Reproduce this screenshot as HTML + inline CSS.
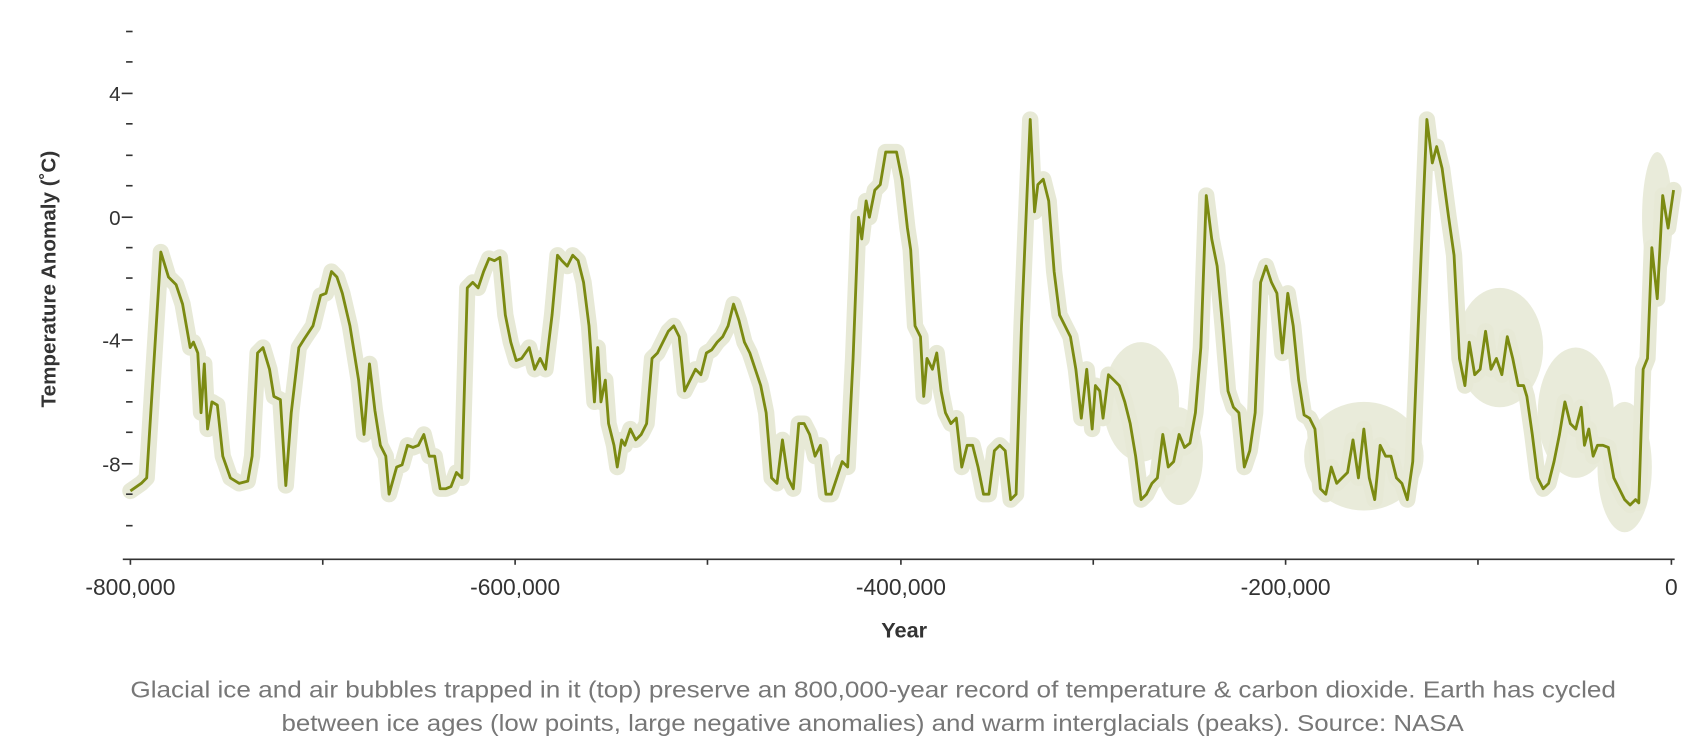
<!DOCTYPE html>
<html><head><meta charset="utf-8"><style>
html,body{margin:0;padding:0;background:#fff;width:1704px;height:744px;overflow:hidden}
svg{display:block}
</style></head><body>
<svg width="1704" height="744" viewBox="0 0 1568 685" preserveAspectRatio="none" xmlns="http://www.w3.org/2000/svg">
<defs>
<path id="d" d="M120,452 L130,445 L135,440 L148,232 L155,255 L162,262 L168,280 L175,320 L178,315 L182,325 L185,380 L188,335 L191,395 L195,370 L200,373 L205,420 L212,440 L220,445 L228,443 L232,420 L237,325 L242,320 L248,340 L252,365 L258,368 L263,447 L268,380 L275,320 L280,312 L288,300 L295,272 L300,270 L305,250 L310,255 L315,270 L322,300 L330,350 L335,400 L340,335 L345,378 L350,410 L355,420 L358,455 L365,430 L370,428 L375,410 L380,412 L385,410 L390,400 L395,420 L400,420 L405,450 L410,450 L415,448 L420,435 L425,440 L430,265 L435,260 L440,265 L445,250 L450,238 L455,240 L460,237 L465,290 L470,315 L475,332 L480,330 L487,320 L492,340 L497,330 L502,340 L508,290 L513,235 L517,240 L522,245 L527,235 L532,240 L537,260 L542,300 L547,370 L550,320 L553,370 L557,350 L560,390 L565,410 L568,430 L572,405 L575,410 L580,395 L585,405 L590,400 L595,390 L600,330 L605,325 L610,315 L615,305 L620,300 L625,310 L630,360 L635,350 L640,340 L645,345 L650,325 L655,322 L660,315 L665,310 L670,300 L675,280 L680,295 L685,315 L690,325 L695,340 L700,355 L705,380 L710,440 L715,445 L720,405 L725,440 L730,450 L735,390 L740,390 L745,400 L750,420 L755,410 L760,455 L765,455 L770,440 L775,425 L780,430 L785,330 L790,200 L793,220 L797,185 L800,200 L805,175 L810,170 L815,140 L820,140 L825,140 L830,165 L835,210 L838,230 L842,300 L847,310 L850,365 L853,330 L858,340 L862,325 L866,360 L870,380 L875,390 L880,385 L885,430 L890,410 L895,410 L900,430 L905,455 L910,455 L915,415 L920,410 L925,415 L930,460 L935,455 L940,300 L945,180 L948,110 L952,195 L955,170 L960,165 L965,185 L970,250 L975,290 L980,300 L985,310 L990,340 L995,385 L1000,340 L1005,395 L1008,355 L1012,360 L1015,385 L1020,345 L1025,350 L1030,355 L1035,370 L1040,390 L1045,420 L1050,460 L1055,455 L1060,445 L1065,440 L1070,400 L1075,430 L1080,425 L1085,400 L1090,412 L1095,408 L1100,380 L1105,320 L1110,180 L1115,220 L1120,245 L1125,300 L1130,360 L1135,375 L1140,380 L1145,430 L1150,415 L1155,380 L1160,260 L1165,245 L1170,260 L1175,270 L1180,325 L1185,270 L1190,300 L1195,350 L1200,382 L1205,385 L1210,395 L1215,450 L1220,455 L1225,430 L1230,445 L1235,440 L1240,435 L1245,405 L1250,440 L1255,395 L1260,440 L1265,460 L1270,410 L1275,420 L1280,420 L1285,440 L1290,445 L1295,460 L1300,425 L1305,300 L1310,180 L1313,110 L1318,150 L1322,135 L1327,155 L1333,200 L1338,235 L1343,330 L1348,355 L1352,315 L1357,345 L1362,340 L1367,305 L1372,340 L1377,330 L1382,345 L1387,310 L1392,330 L1397,355 L1402,355 L1405,365 L1410,400 L1415,440 L1420,450 L1425,445 L1430,425 L1435,400 L1440,370 L1445,390 L1450,395 L1455,375 L1458,410 L1462,395 L1466,420 L1470,410 L1475,410 L1480,412 L1485,440 L1490,450 L1495,460 L1500,465 L1505,460 L1508,463 L1512,340 L1516,330 L1520,228 L1525,275 L1530,180 L1535,210 L1540,175"/>
</defs>
<g fill="#e9ebda">
<ellipse cx="1050" cy="370" rx="35" ry="55"/>
<ellipse cx="1085" cy="420" rx="22" ry="45"/>
<ellipse cx="1255" cy="420" rx="55" ry="50"/>
<ellipse cx="1380" cy="320" rx="40" ry="55"/>
<ellipse cx="1450" cy="380" rx="35" ry="60"/>
<ellipse cx="1495" cy="430" rx="25" ry="60"/>
<ellipse cx="1525" cy="200" rx="14" ry="60"/>
</g>
<use href="#d" fill="none" stroke="#e7e9d6" stroke-width="15" stroke-linejoin="round" stroke-linecap="round"/>
<use href="#d" fill="none" stroke="#7b8a12" stroke-width="2.6" stroke-linejoin="round"/>
<g stroke="#333" stroke-width="1.5">
<line x1="113" y1="515" x2="1541" y2="515"/>
<line x1="120" y1="515" x2="120" y2="520"/><line x1="297" y1="515" x2="297" y2="520"/>
<line x1="474" y1="515" x2="474" y2="520"/><line x1="651" y1="515" x2="651" y2="520"/>
<line x1="829" y1="515" x2="829" y2="520"/><line x1="1006" y1="515" x2="1006" y2="520"/>
<line x1="1183" y1="515" x2="1183" y2="520"/><line x1="1360" y1="515" x2="1360" y2="520"/>
<line x1="1538" y1="515" x2="1538" y2="520"/>
</g>
<g stroke="#333" stroke-width="1.5">
<line x1="116" y1="29" x2="122" y2="29"/><line x1="116" y1="57" x2="122" y2="57"/>
<line x1="112" y1="86" x2="122" y2="86"/><line x1="116" y1="114" x2="122" y2="114"/>
<line x1="116" y1="143" x2="122" y2="143"/><line x1="116" y1="171" x2="122" y2="171"/>
<line x1="112" y1="200" x2="122" y2="200"/><line x1="116" y1="228" x2="122" y2="228"/>
<line x1="116" y1="256" x2="122" y2="256"/><line x1="116" y1="285" x2="122" y2="285"/>
<line x1="112" y1="313" x2="122" y2="313"/><line x1="116" y1="341" x2="122" y2="341"/>
<line x1="116" y1="370" x2="122" y2="370"/><line x1="116" y1="398" x2="122" y2="398"/>
<line x1="112" y1="427" x2="122" y2="427"/><line x1="116" y1="455" x2="122" y2="455"/>
<line x1="116" y1="484" x2="122" y2="484"/>
</g>
<g font-family="Liberation Sans, sans-serif" font-size="19" fill="#333" text-anchor="end">
<text x="111" y="93">4</text><text x="111" y="207">0</text>
<text x="111" y="320">-4</text><text x="111" y="434">-8</text>
</g>
<g font-family="Liberation Sans, sans-serif" font-size="21" fill="#333" text-anchor="middle">
<text x="120" y="548">-800,000</text><text x="474" y="548">-600,000</text>
<text x="829" y="548">-400,000</text><text x="1183" y="548">-200,000</text>
<text x="1538" y="548">0</text>
</g>
<text x="832" y="587" font-family="Liberation Sans, sans-serif" font-size="20" font-weight="bold" fill="#333" text-anchor="middle">Year</text>
<text transform="translate(51,257) rotate(-90)" font-family="Liberation Sans, sans-serif" font-size="19" font-weight="bold" fill="#333" text-anchor="middle">Temperature Anomaly (˚C)</text>
<g font-family="Liberation Sans, sans-serif" font-size="21" fill="#777">
<text x="120" y="642" textLength="1367" lengthAdjust="spacingAndGlyphs">Glacial ice and air bubbles trapped in it (top) preserve an 800,000-year record of temperature &amp; carbon dioxide. Earth has cycled</text>
<text x="259" y="673" textLength="1088" lengthAdjust="spacingAndGlyphs">between ice ages (low points, large negative anomalies) and warm interglacials (peaks). Source: NASA</text>
</g>
</svg>
</body></html>
